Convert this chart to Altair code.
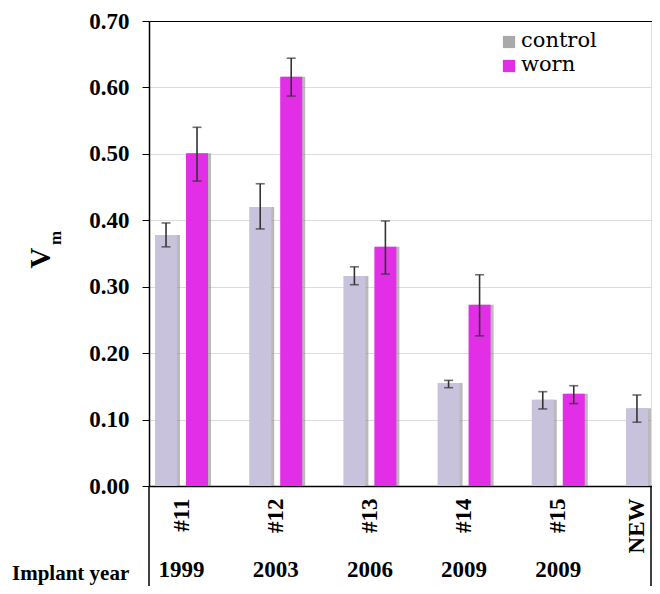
import altair as alt
import pandas as pd

implants = ["#11", "#12", "#13", "#14", "#15", "NEW"]
years = ["1999", "2003", "2006", "2009", "2009", ""]
series = ["control", "worn"]

control_mean = [0.378, 0.420, 0.316, 0.155, 0.130, 0.117]
control_lo = [0.360, 0.387, 0.303, 0.148, 0.116, 0.096]
control_hi = [0.396, 0.455, 0.330, 0.159, 0.142, 0.137]

worn_mean = [0.501, 0.616, 0.360, 0.273, 0.139]
worn_lo = [0.459, 0.587, 0.319, 0.226, 0.124]
worn_hi = [0.540, 0.644, 0.399, 0.318, 0.151]

y_ticks = [0.0, 0.1, 0.2, 0.3, 0.4, 0.5, 0.6, 0.7]

rows = []
for i, imp in enumerate(implants):
    rows.append({"implant": imp, "series": "control", "mean": control_mean[i],
                 "lo": control_lo[i], "hi": control_hi[i]})
for i, m in enumerate(worn_mean):
    rows.append({"implant": implants[i], "series": "worn", "mean": m,
                 "lo": worn_lo[i], "hi": worn_hi[i]})
df = pd.DataFrame(rows)
year_df = pd.DataFrame({"implant": implants, "year": years})

FONT = "Liberation Serif"
FONT_REG = "DejaVu Serif"
W, H = 502, 465

x_enc = alt.X(
    "implant:N",
    sort=implants,
    scale=alt.Scale(domain=implants, range=[0, 536], paddingInner=0.437, paddingOuter=0.064),
    axis=alt.Axis(
        title=None, labelAngle=-90, labelFont=FONT, labelFontSize=23, labelFontWeight="bold",
        labelColor="black", labelPadding=12, ticks=False, domainColor="black", domainWidth=1.5,
        labelOffset=alt.condition("datum.value == 'NEW'", alt.value(-15), alt.value(0)),
    ),
)
xo_enc = alt.XOffset("series:N", scale=alt.Scale(domain=series, range=[0, 53],
                                                 paddingInner=0.29, paddingOuter=0))
xo_shadow = alt.XOffset("series:N", scale=alt.Scale(domain=series, range=[3, 56],
                                                    paddingInner=0.29, paddingOuter=0))
y_scale = alt.Scale(domain=[0, 0.7], nice=False)
y_enc = alt.Y(
    "mean:Q",
    scale=y_scale,
    axis=alt.Axis(
        values=y_ticks, format=".2f", title=None, labelFont=FONT, labelFontSize=23,
        labelFontWeight="bold", labelColor="black", labelPadding=13, tickSize=7,
        tickColor="black", domainColor="black", domainWidth=1.5,
        gridColor=alt.condition("datum.value > 0.69", alt.value("black"), alt.value("#dcdcdc")),
        gridWidth=1.2,
    ),
)
color_enc = alt.Color("series:N", scale=alt.Scale(domain=series, range=["#c9c2dc", "#e22ee6"]), legend=None)

base = alt.Chart(df)
shadow = base.mark_bar(color="#8c8c8c", opacity=0.6).encode(x=x_enc, xOffset=xo_shadow, y=y_enc)
bars = base.mark_bar().encode(x=x_enc, xOffset=xo_enc, y=y_enc, color=color_enc)
err = base.mark_rule(color="#333333", strokeWidth=1.6).encode(
    x=x_enc, xOffset=xo_enc, y=alt.Y("lo:Q", scale=y_scale), y2="hi:Q")
cap_lo = base.mark_tick(color="#333333", thickness=1.6, size=9).encode(
    x=x_enc, xOffset=xo_enc, y=alt.Y("lo:Q", scale=y_scale))
cap_hi = base.mark_tick(color="#333333", thickness=1.6, size=9).encode(
    x=x_enc, xOffset=xo_enc, y=alt.Y("hi:Q", scale=y_scale))

year_text = alt.Chart(year_df).mark_text(
    font=FONT, fontSize=23, fontWeight="bold", color="black", baseline="middle"
).encode(x=x_enc, y=alt.value(549), text="year:N")

one = pd.DataFrame({"a": [0]})
implant_lbl = alt.Chart(one).mark_text(
    text="Implant year", font=FONT, fontSize=21, fontWeight="bold", color="black",
    align="left", baseline="middle"
).encode(x=alt.value(-137), y=alt.value(553))

v_lbl = alt.Chart(one).mark_text(
    text="V", font=FONT, fontSize=29, fontWeight="bold", color="black", angle=270,
    align="center", baseline="alphabetic"
).encode(x=alt.value(-99), y=alt.value(237))
m_lbl = alt.Chart(one).mark_text(
    text="m", font=FONT, fontSize=17, fontWeight="bold", color="black", angle=270,
    align="center", baseline="alphabetic"
).encode(x=alt.value(-88), y=alt.value(217))

leg_sq_c = alt.Chart(one).mark_square(color="#a9a9a9", size=150, opacity=1).encode(
    x=alt.value(360), y=alt.value(21))
leg_sq_w = alt.Chart(one).mark_square(color="#e22ee6", size=150, opacity=1).encode(
    x=alt.value(360), y=alt.value(45))
leg_t_c = alt.Chart(one).mark_text(
    text="control", font=FONT_REG, fontSize=21, fontWeight=400, color="black",
    align="left", baseline="middle"
).encode(x=alt.value(372), y=alt.value(20))
leg_t_w = alt.Chart(one).mark_text(
    text="worn", font=FONT_REG, fontSize=21, fontWeight=400, color="black",
    align="left", baseline="middle"
).encode(x=alt.value(372), y=alt.value(44))

frame_l = alt.Chart(one).mark_rule(color="black", strokeWidth=1.5).encode(
    x=alt.value(0), y=alt.value(H), y2=alt.value(H + 100))
frame_r = alt.Chart(one).mark_rule(color="black", strokeWidth=1.5).encode(
    x=alt.value(W), y=alt.value(H), y2=alt.value(H + 100))

chart = alt.layer(
    shadow, bars, err, cap_lo, cap_hi, year_text, implant_lbl, v_lbl, m_lbl,
    leg_sq_c, leg_sq_w, leg_t_c, leg_t_w, frame_l, frame_r
).resolve_scale(
    xOffset="independent"
).properties(
    width=W, height=H,
    autosize=alt.AutoSizeParams(type="none"),
    padding={"left": 141, "top": 13, "right": 1, "bottom": 100},
).configure_view(stroke=None).configure(background="white")

chart.save("out.html", embed_options={"renderer": "svg", "actions": False})
